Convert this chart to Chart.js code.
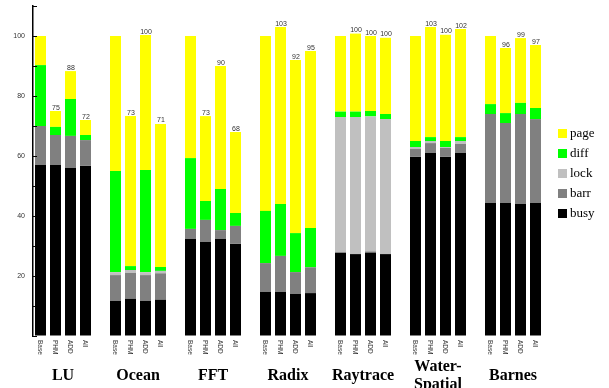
<!DOCTYPE html>
<html>
<head>
<meta charset="utf-8">
<script src="https://cdn.jsdelivr.net/npm/chart.js@4"></script>
<style>
html,body{margin:0;padding:0;background:#fff;}
#wrap{width:609px;height:388px;position:relative;}
</style>
</head>
<body>
<div id="wrap"><canvas id="c" width="609" height="388"></canvas></div>
<script>
const groups = ['LU','Ocean','FFT','Radix','Raytrace','Water-Spatial','Barnes'];
const configs = ['Base','PHM','ADD','All'];
const seriesNames = ['busy','barr','lock','diff','page'];
const seriesColors = ['#000000','#808080','#c0c0c0','#00ff00','#ffff00'];
const busy = [57,57,56,56.7, 11.7,12.4,11.7,12.1, 32.3,31.3,32.3,30.7, 14.7,14.7,14,14.3, 27.8,27.3,27.8,27.3, 59.7,61,59.7,61, 44.3,44.3,44,44.3];
const barr = [13,10,10.7,8.6, 8.6,8.6,8.6,8.8, 3.4,7.4,3,6, 9.6,12,7.3,8.6, 0,0,0.4,0, 2.7,3.3,3,3, 29.7,26.7,30,28];
const lock = [0,0,0,0, 1,1,1,0.8, 0,0,0,0, 0,0,0,0, 45.2,45.7,45,45, 0.6,0.7,0.3,1, 0,0,0,0];
const diff = [20.3,2.7,12.3,1.7, 33.7,1.3,34,1.3, 23.6,6.3,13.7,4.3, 17.4,17.3,13,13.1, 1.8,1.8,1.8,1.7, 2,1.3,2,1.3, 3.3,3.3,3.7,3.7];
const page = [9.7,5.3,9.3,5, 45,50,45,47.7, 40.7,28.3,41,27, 58.3,59,57.7,59, 25.2,26,25,25.4, 35,36.7,35.4,36, 22.7,21.7,21.6,21];
const totalLabels = ['','75','88','72', '','73','100','71', '','73','90','68', '','103','92','95', '','100','100','100', '','103','100','102', '','96','99','97'];
const yTickLabels = [20,40,60,80,100];

// expand into slots: 4 bars per group, an empty slot between groups
function expand(arr){
  const out=[];
  groups.forEach((g,gi)=>{
    for(let k=0;k<configs.length;k++) out.push(arr[gi*configs.length+k]);
    if(gi<groups.length-1) out.push(null);
  });
  return out;
}
const slotLabels = expand(groups.flatMap(g=>configs.map(c=>c)));
const slotTotals = expand(totalLabels);
const slotGroup = expand(groups.flatMap((g,gi)=>configs.map(()=>gi)));
const seriesData = [busy,barr,lock,diff,page].map(expand);

const overlay = {
  id:'overlay',
  afterDraw(chart){
    const ctx=chart.ctx, xs=chart.scales.x, ys=chart.scales.y;
    ctx.save();
    // inner tick marks on y axis
    ctx.strokeStyle='#000'; ctx.lineWidth=1;
    for(let v=0; v<=110; v+=10){
      const y=Math.round(ys.getPixelForValue(v))+0.5;
      ctx.beginPath(); ctx.moveTo(ys.right, y); ctx.lineTo(ys.right+4, y); ctx.stroke();
    }
    // value labels above bars and rotated category labels
    for(let i=0;i<slotLabels.length;i++){
      if(slotLabels[i]==null) continue;
      const x=xs.getPixelForValue(i);
      let tot=0; seriesData.forEach(s=>{tot+= s[i]||0;});
      if(slotTotals[i]){
        ctx.fillStyle='#333'; ctx.font='7px Arial, "Liberation Sans", sans-serif';
        ctx.textAlign='center'; ctx.textBaseline='alphabetic';
        ctx.fillText(slotTotals[i], x+0.5, ys.getPixelForValue(tot)-1.5);
      }
      ctx.save();
      ctx.translate(x-0.5, 340);
      ctx.rotate(Math.PI/2);
      ctx.fillStyle='#333'; ctx.font='6.5px Arial, "Liberation Sans", sans-serif';
      ctx.textAlign='left'; ctx.textBaseline='middle';
      ctx.fillText(slotLabels[i],0,0);
      ctx.restore();
    }
    // group names
    ctx.fillStyle='#000'; ctx.font='bold 16px "Liberation Serif", "Times New Roman", serif';
    ctx.textAlign='center'; ctx.textBaseline='alphabetic';
    groups.forEach((g,gi)=>{
      const idx=slotGroup.map((v,i)=>v===gi?i:-1).filter(i=>i>=0);
      const cx=(xs.getPixelForValue(idx[0])+xs.getPixelForValue(idx[idx.length-1]))/2;
      if(g.indexOf('-')>=0){
        const parts=g.split('-');
        ctx.fillText(parts[0]+'-', cx, 371);
        ctx.fillText(parts[1], cx, 389);
      } else {
        ctx.fillText(g, cx, 380);
      }
    });
    // legend
    ctx.font='13px "Liberation Serif", "Times New Roman", serif';
    ctx.textAlign='left'; ctx.textBaseline='middle';
    for(let k=seriesNames.length-1, row=0; k>=0; k--, row++){
      const y=129+row*20;
      ctx.fillStyle=seriesColors[k];
      ctx.fillRect(558,y,9,9);
      ctx.fillStyle='#000';
      ctx.fillText(seriesNames[k], 570, y+4.5);
    }
    ctx.restore();
  }
};

new Chart(document.getElementById('c'),{
  type:'bar',
  data:{
    labels: slotLabels.map(l=>l==null?'':l),
    datasets: seriesNames.map((n,k)=>({
      label:n, data:seriesData[k], backgroundColor:seriesColors[k],
      borderWidth:0, categoryPercentage:1, barPercentage:11/15
    }))
  },
  options:{
    responsive:false, animation:false,
    layout:{padding:{top:6,right:66,bottom:52,left:0}},
    plugins:{legend:{display:false},tooltip:{enabled:false}},
    scales:{
      x:{stacked:true, display:false, offset:true},
      y:{stacked:true, min:0, max:110,
        grid:{display:true, drawOnChartArea:false, drawTicks:false},
        border:{display:true,color:'#000',width:1.5},
        ticks:{stepSize:10, padding:8, color:'#333',
          font:{family:'Arial, "Liberation Sans", sans-serif', size:7},
          callback:(v)=> yTickLabels.includes(v)? String(v): ''},
        afterFit:(s)=>{s.width=33; s.paddingTop=0; s.paddingBottom=0;}
      }
    }
  },
  plugins:[overlay]
});
</script>
</body>
</html>
